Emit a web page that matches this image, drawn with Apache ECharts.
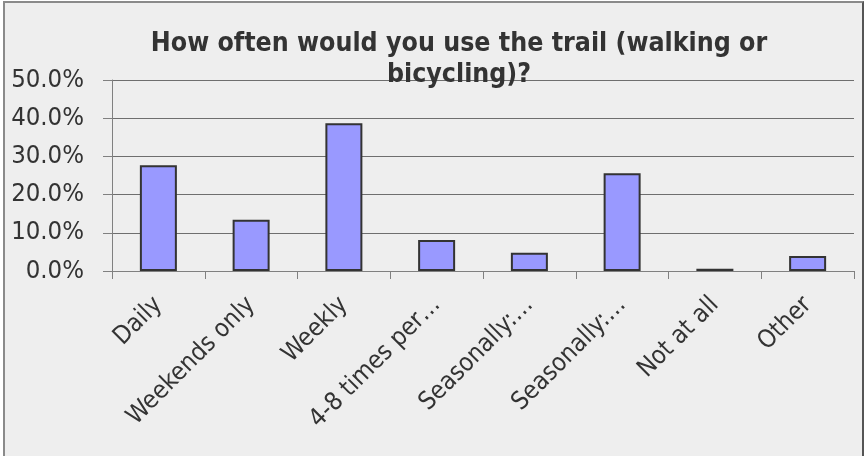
<!DOCTYPE html>
<html>
<head>
<meta charset="utf-8">
<script src="https://cdn.jsdelivr.net/npm/echarts@6/dist/echarts.min.js"></script>
<style>
  html, body { margin: 0; padding: 0; background: #fff; }
  #chart {
    position: absolute; left: 3px; top: 1px;
    width: 857px; height: 455px;
    border-left: 2px solid #8a8a8a;
    border-top: 2px solid #8a8a8a;
    border-right: 2px solid #555;
    background: #eeeeee;
  }
</style>
</head>
<body>
<div id="chart"></div>
<script>
  // survey answers
  var categories = ['Daily', 'Weekends only', 'Weekly', '4-8 times per\u2026', 'Seasonally:\u2026', 'Seasonally:\u2026', 'Not at all', 'Other'];
  var shares = [27.7, 13.4, 38.7, 8.1, 4.8, 25.6, 0.6, 3.9];
  var yTicks = [0, 10, 20, 30, 40, 50];

  var font = '"DejaVu Sans Condensed", "DejaVu Sans", sans-serif';

  var option = {
      title: {
          text: 'How often would you use the trail (walking or\nbicycling)?',
          left: 449,
          textAlign: 'center',
          top: 21,
          textStyle: {
              fontFamily: font,
              fontSize: 26.5,
              fontWeight: 'bold',
              color: '#333',
              lineHeight: 31
          }
      },
      grid: {
          left: 107,
          right: 8,
          top: 77,
          bottom: 187
      },
      xAxis: {
          type: 'category',
          data: categories,
          axisLine: { lineStyle: { color: '#808080', width: 1 } },
          axisTick: { show: true, length: 8, lineStyle: { color: '#808080' } },
          axisLabel: {
              rotate: 45,
              interval: 0,
              margin: 30,
              fontFamily: font,
              fontSize: 25,
              color: '#333'
          }
      },
      yAxis: {
          type: 'value',
          min: 0,
          max: 50,
          interval: 10,
          axisLine: { show: true, lineStyle: { color: '#808080', width: 1 } },
          axisTick: { show: true, length: 9, lineStyle: { color: '#808080' } },
          splitLine: { lineStyle: { color: '#6e6e6e', width: 1 } },
          axisLabel: {
              margin: 28,
              fontFamily: font,
              fontSize: 25.5,
              color: '#333',
              formatter: function (v) { return yTicks.indexOf(v) >= 0 ? v.toFixed(1) + '%' : ''; }
          }
      },
      series: [{
          type: 'bar',
          data: shares,
          barWidth: 37,
          itemStyle: {
              color: '#9999ff',
              borderColor: '#333',
              borderWidth: 2
          }
      }],
      animation: false
  };

  var chart = echarts.init(document.getElementById('chart'));
  chart.setOption(option);
</script>
</body>
</html>
